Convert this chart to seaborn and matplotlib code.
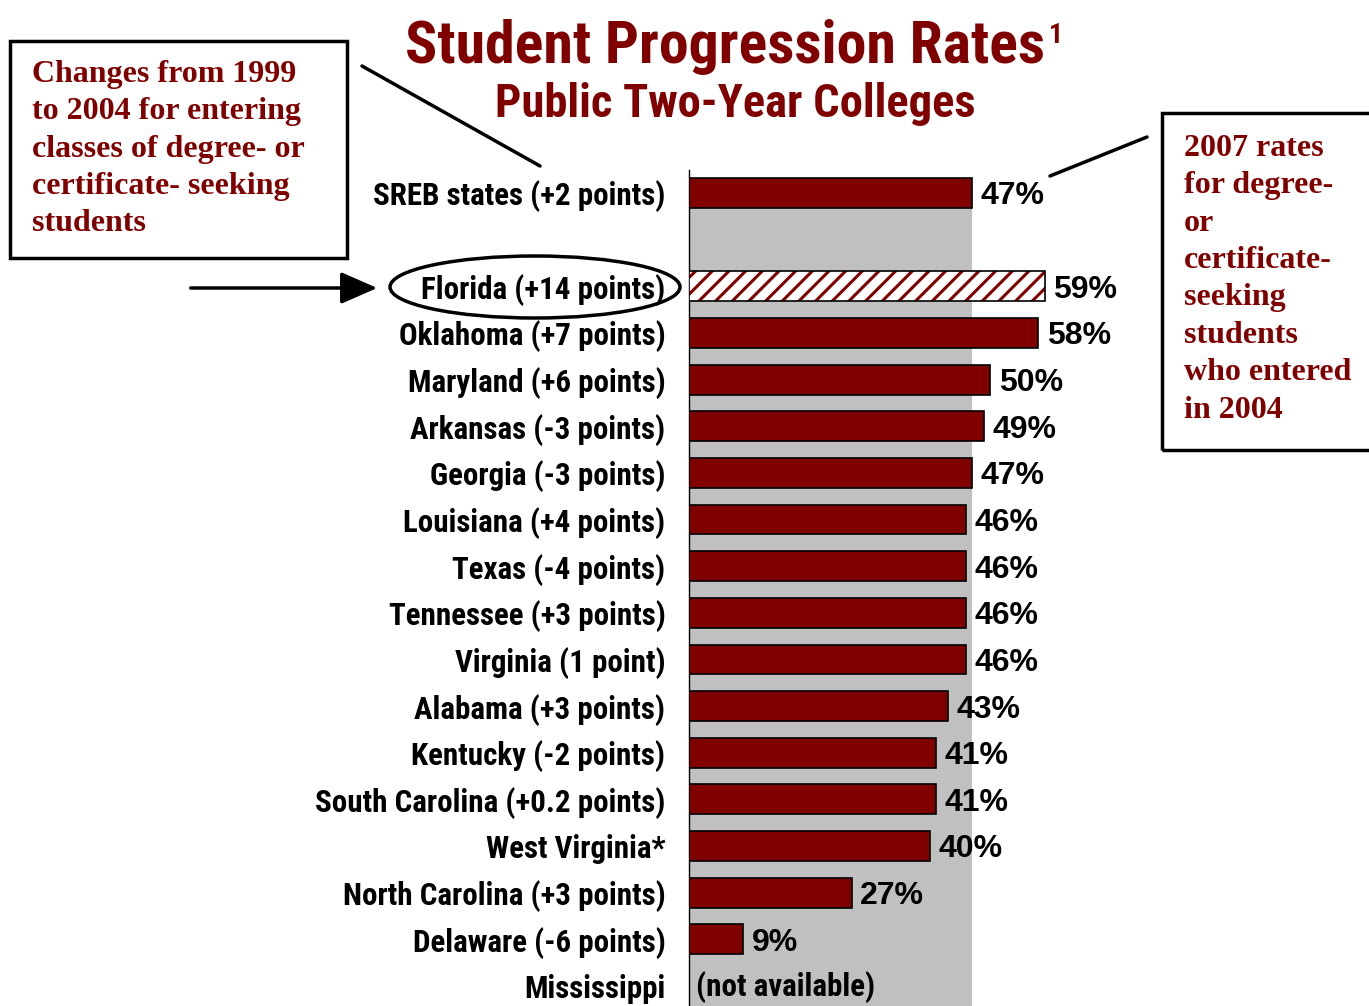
import numpy as np
import pandas as pd
import matplotlib
matplotlib.use("Agg")
import matplotlib.pyplot as plt
import seaborn as sns
from matplotlib import font_manager
from matplotlib.patches import Rectangle, Ellipse, FancyArrowPatch

# dados
labels = ["SREB states (+2 points)", "Florida (+14 points)", "Oklahoma (+7 points)",
          "Maryland (+6 points)", "Arkansas (-3 points)", "Georgia (-3 points)",
          "Louisiana (+4 points)", "Texas (-4 points)", "Tennessee (+3 points)",
          "Virginia (1 point)", "Alabama (+3 points)", "Kentucky (-2 points)",
          "South Carolina (+0.2 points)", "West Virginia*", "North Carolina (+3 points)",
          "Delaware (-6 points)", "Mississippi"]
rates = [47, 59, 58, 50, 49, 47, 46, 46, 46, 46, 43, 41, 41, 40, 27, 9, np.nan]
slots = [0] + list(range(2, 18))
highlight = "Florida (+14 points)"
left_note = "Changes from 1999\nto 2004 for entering\nclasses of degree- or\ncertificate- seeking\nstudents"
right_note = "2007 rates\nfor degree-\nor\ncertificate-\nseeking\nstudents\nwho entered\nin 2004"

MAROON = "#800000"
GRAY = "#c0c0c0"
W, H = 1369, 1006

sns.set_style("white")

# procura fonte estreita (tipo Arial Narrow), senao usa Liberation Sans menor
names = {f.name for f in font_manager.fontManager.ttflist}
cands = ["Liberation Sans Narrow", "Arial Narrow", "Roboto Condensed", "Open Sans Condensed",
         "Nimbus Sans Narrow"]
NARROW = next((c for c in cands if c in names), None)
if NARROW is None:
    NARROW = "Liberation Sans"
    LAB_FS, TITLE_FS, SUB_FS, SUP_FS = 18.6, 35.5, 28.3, 16
else:
    LAB_FS, TITLE_FS, SUB_FS, SUP_FS = 22.3, 43, 33.5, 20
SANS = [NARROW, "DejaVu Sans"]
SERIF = ["Liberation Serif", "DejaVu Serif"]

plt.rcParams["font.family"] = SANS
plt.rcParams["hatch.linewidth"] = 2.2
plt.rcParams["text.color"] = "black"
plt.rcParams["ytick.labelcolor"] = "black"

df = pd.DataFrame({"label": labels, "rate": rates, "slot": slots})
bars = df.dropna()

fig = plt.figure(figsize=(W / 100, H / 100), dpi=100)
ax = fig.add_axes([689 / W, 0, 470 / W, (H - 169.7) / H])

sns.barplot(data=bars, x="rate", y="slot", orient="h", native_scale=True,
            color=MAROON, saturation=1, width=0.64, edgecolor="black",
            linewidth=1.2, ax=ax, zorder=3)

ax.set_xlim(0, 78)
ax.set_ylim(17.43, -0.5)

# faixa cinza ate o valor da media SREB
sreb = rates[0]
ax.fill_betweenx([slots[0] + 0.32, 17.43], 0, sreb, color=GRAY, zorder=0, lw=0)

# Florida hachurada
for p in ax.patches:
    yc = p.get_y() + p.get_height() / 2
    if abs(yc - slots[labels.index(highlight)]) < 0.1 and p.get_width() > 0:
        p.set_facecolor("white")
        p.set_hatch("//")
        p.set_edgecolor(MAROON)
        p.set_linewidth(0)
        ax.add_patch(Rectangle(p.get_xy(), p.get_width(), p.get_height(), fill=False,
                               edgecolor="black", lw=1.2, zorder=4))
        break

# valores
for _, r in df.iterrows():
    if np.isnan(r["rate"]):
        ax.annotate("(not available)", (0, r["slot"]), xytext=(5, -1), textcoords="offset points",
                    ha="left", va="center", fontsize=LAB_FS, fontweight="bold", family=SANS)
    else:
        ax.annotate(f"{r['rate']:.0f}%", (r["rate"], r["slot"]), xytext=(6, -2.5),
                    textcoords="offset points", ha="left", va="center", fontsize=23,
                    fontweight="bold", family=["Liberation Sans", "DejaVu Sans"])

ax.set_yticks(slots)
ax.set_yticklabels(labels, fontsize=LAB_FS, fontweight="bold")
ax.set_yticks(np.arange(-0.5, 17, 1), minor=True)
ax.tick_params(axis="y", which="major", length=0, pad=17)
ax.tick_params(axis="y", which="minor", length=7, width=1, color="black", direction="out")
ax.set_xticks([])
ax.set_xlabel("")
ax.set_ylabel("")
for s in ["top", "right", "bottom"]:
    ax.spines[s].set_visible(False)
ax.spines["left"].set_color("black")
ax.spines["left"].set_linewidth(1)

# titulos
fig.text(725 / W, 1 - 63 / H, "Student Progression Rates", ha="center", va="baseline",
         fontsize=TITLE_FS, fontweight="bold", color=MAROON)
fig.text(1049 / W, 1 - 43 / H, "1", ha="left", va="baseline", fontsize=SUP_FS,
         fontweight="bold", color=MAROON)
fig.text(735 / W, 1 - 117 / H, "Public Two-Year Colleges", ha="center", va="baseline",
         fontsize=SUB_FS, fontweight="bold", color=MAROON)

# caixas de nota
fig.add_artist(Rectangle((10 / W, 1 - 258 / H), 337 / W, 217 / H, fill=False,
                         edgecolor="black", lw=2.5, transform=fig.transFigure))
fig.text(32 / W, 1 - 60 / H, left_note, ha="left", va="top", fontsize=23, fontweight="bold",
         color=MAROON, family=SERIF, linespacing=1.38)
fig.add_artist(Rectangle((1162 / W, 1 - 450 / H), 230 / W, 337 / H, fill=False,
                         edgecolor="black", lw=2.5, transform=fig.transFigure, clip_on=False))
fig.text(1184 / W, 1 - 134 / H, right_note, ha="left", va="top", fontsize=23, fontweight="bold",
         color=MAROON, family=SERIF, linespacing=1.38)

# linhas, seta, elipse
fig.add_artist(plt.Line2D([362 / W, 540 / W], [1 - 66 / H, 1 - 166 / H], color="black", lw=2.5))
fig.add_artist(plt.Line2D([1050 / W, 1147 / W], [1 - 176 / H, 1 - 137 / H], color="black", lw=2.5))
fig.add_artist(Ellipse((535 / W, 1 - 287 / H), 290 / W, 62 / H, fill=False, edgecolor="black",
                       lw=2.5, transform=fig.transFigure))
fig.add_artist(FancyArrowPatch(
    (188 / W, 1 - 288 / H), (380 / W, 1 - 288 / H), transform=fig.transFigure,
    arrowstyle="-|>,head_length=1.6,head_width=0.7", mutation_scale=14, color="black", lw=2.5))

fig.savefig("out.png", dpi=100)
